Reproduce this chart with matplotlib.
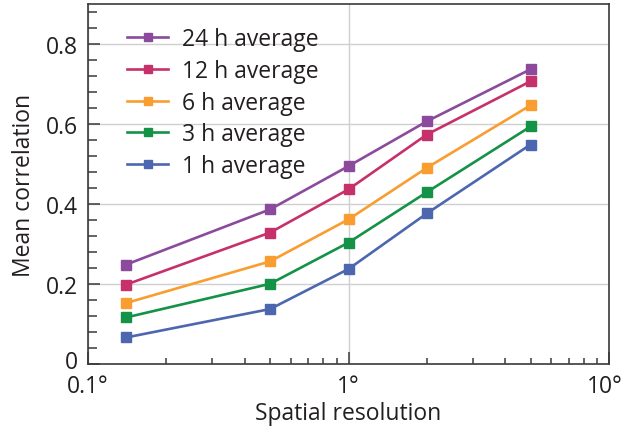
import matplotlib
matplotlib.use("Agg")
import matplotlib.pyplot as plt
from matplotlib.ticker import FixedLocator, FuncFormatter, LogLocator, MultipleLocator, NullFormatter
from matplotlib.transforms import ScaledTranslation

plt.rcParams['font.family'] = ['Open Sans', 'DejaVu Sans']

resolution = [0.14, 0.5, 1.0, 2.0, 5.0]
series_labels = ["24 h average", "12 h average", "6 h average", "3 h average", "1 h average"]
corr_24h = [0.249, 0.387, 0.495, 0.607, 0.737]
corr_12h = [0.199, 0.329, 0.437, 0.574, 0.707]
corr_6h = [0.153, 0.257, 0.362, 0.491, 0.647]
corr_3h = [0.117, 0.201, 0.304, 0.430, 0.594]
corr_1h = [0.067, 0.138, 0.238, 0.377, 0.549]
series_values = [corr_24h, corr_12h, corr_6h, corr_3h, corr_1h]
colors = ["#8B4A9C", "#C6306B", "#F99D31", "#149247", "#4C66B0"]
x_tick_values = [0.1, 1, 10]
x_tick_labels = ["0.1°", "1°", "10°"]
y_tick_values = [0, 0.2, 0.4, 0.6, 0.8]
y_tick_labels = ["0", "0.2", "0.4", "0.6", "0.8"]

FS = 16.5

fig = plt.figure(figsize=(6.25, 4.27), dpi=100)
ax = fig.add_axes([0.1408, 0.1445, 0.9744 - 0.1408, 0.9883 - 0.1445])

for lab, vals, c in zip(series_labels, series_values, colors):
    ax.plot(resolution, vals, color=c, lw=1.9, marker='s', ms=6.5, label=lab,
            solid_joinstyle='miter', zorder=3)

ax.set_xscale('log')
ax.set_xlim(0.1, 10)
ax.set_ylim(0, 0.9)

ax.xaxis.set_major_locator(FixedLocator(x_tick_values))
ax.set_xticklabels(x_tick_labels)
ax.xaxis.set_minor_locator(LogLocator(base=10, subs=range(2, 10)))
ax.xaxis.set_minor_formatter(NullFormatter())
ax.yaxis.set_major_locator(FixedLocator(y_tick_values))
ax.set_yticklabels(y_tick_labels)
ax.yaxis.set_minor_locator(MultipleLocator(0.04))

ax.tick_params(axis='both', which='both', direction='in', colors='#3a3a3a',
               labelcolor='#231f20', labelsize=FS, pad=7)
ax.tick_params(axis='both', which='major', length=8.6, width=1.1)
ax.tick_params(axis='y', which='minor', length=6.2, width=1.1)
ax.tick_params(axis='x', which='minor', length=4.2, width=1.1)

# lift the "0" label slightly, as in the reference
zero_lbl = ax.get_yticklabels()[0]
zero_lbl.set_transform(zero_lbl.get_transform() + ScaledTranslation(0, 5 / 100, fig.dpi_scale_trans))
# keep the "10°" label inside the figure
ten_lbl = ax.get_xticklabels()[-1]
ten_lbl.set_transform(ten_lbl.get_transform() + ScaledTranslation(-4 / 100, 0, fig.dpi_scale_trans))

ax.grid(True, which='major', color='#cfcfcf', lw=1.0, zorder=0)
ax.set_axisbelow(True)
for s in ax.spines.values():
    s.set_color('#3a3a3a')
    s.set_linewidth(1.2)

ax.set_xlabel("Spatial resolution", fontsize=FS, color='#231f20', labelpad=2)
ax.set_ylabel("Mean correlation", fontsize=FS, color='#231f20', labelpad=7)

leg = ax.legend(loc='upper left', bbox_to_anchor=(0.075, 0.935), frameon=False,
                fontsize=FS, handlelength=1.8, handletextpad=0.6, labelspacing=0.33,
                borderaxespad=0, borderpad=0, markerscale=0.9)
for t in leg.get_texts():
    t.set_color('#231f20')

fig.savefig("out.png", dpi=100, facecolor='white')
